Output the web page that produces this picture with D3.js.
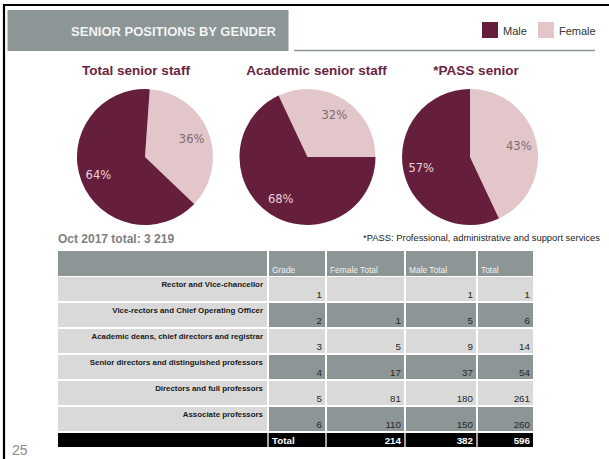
<!DOCTYPE html>
<html>
<head>
<meta charset="utf-8">
<script src="https://cdn.jsdelivr.net/npm/d3@7"></script>
<style>
  html, body { margin: 0; padding: 0; background: #fff; }
  svg { display: block; font-family: "Liberation Sans", Arial, sans-serif; }
</style>
</head>
<body>
<svg id="chart" width="609" height="459"></svg>
<script>
// ---- data ----
const pieTitles = ["Total senior staff", "Academic senior staff", "*PASS senior"];
const femalePct = [36, 32, 43];
const malePct = [64, 68, 57];

const rowLabels = [
  "Rector and Vice-chancellor",
  "Vice-rectors and Chief Operating Officer",
  "Academic deans, chief directors and registrar",
  "Senior directors and distinguished professors",
  "Directors and full professors",
  "Associate professors"
];
const grades = [1, 2, 3, 4, 5, 6];
const femaleTotals = [null, 1, 5, 17, 81, 110];
const maleTotals = [1, 5, 9, 37, 180, 150];
const rowTotals = [1, 6, 14, 54, 261, 260];
const columnHeaders = ["Grade", "Female Total", "Male Total", "Total"];
const grandTotals = [214, 382, 596];

// ---- styles ----
const MALE = "#651e3c", FEMALE = "#e3c6ca", TITLE = "#6b2541";
const SLATE = "#8c9696", LIGHT = "#d9d9d9";

const svg = d3.select("#chart");

// slide frame
svg.append("path")
  .attr("d", "M4,459V5H609")
  .attr("fill", "none").attr("stroke", "#000").attr("stroke-width", 2.2);

// heading bar
svg.append("rect").attr("x", 7.5).attr("y", 10).attr("width", 281).attr("height", 41).attr("fill", SLATE);
svg.append("text").attr("x", 276).attr("y", 36).attr("text-anchor", "end")
  .attr("font-size", 13).attr("font-weight", "bold").attr("fill", "#f3f3f3")
  .text("SENIOR POSITIONS BY GENDER");

// legend
svg.append("line").attr("x1", 294).attr("x2", 595).attr("y1", 50.5).attr("y2", 50.5)
  .attr("stroke", SLATE).attr("stroke-width", 1.5);
const legendItems = [{k: "Male", c: MALE, x: 482}, {k: "Female", c: FEMALE, x: 538}];
const lg = svg.append("g").selectAll("g").data(legendItems).join("g")
  .attr("transform", d => `translate(${d.x},22)`);
lg.append("rect").attr("width", 16).attr("height", 16).attr("fill", d => d.c);
lg.append("text").attr("x", 21).attr("y", 12.5).attr("font-size", 11).attr("fill", "#333").text(d => d.k);

// ---- pies ----
const cx = d3.scalePoint().domain(pieTitles).range([145, 470]);
const startDeg = [4, -25.2, 0];
const titleShift = [-9, 9, 6];
const R = 68;
const arc = d3.arc().innerRadius(0).outerRadius(R);
const labelArc = d3.arc().innerRadius(50).outerRadius(50);

pieTitles.forEach((t, i) => {
  const s = startDeg[i] * Math.PI / 180;
  const pie = d3.pie().sort(null).value(d => d.v).startAngle(s).endAngle(s + 2 * Math.PI);
  const slices = pie([
    {k: "Female", v: femalePct[i], c: FEMALE, tc: "#7b6c70"},
    {k: "Male", v: malePct[i], c: MALE, tc: "#ead3d9"}
  ]);
  const g = svg.append("g").attr("transform", `translate(${cx(t)},157)`);
  g.selectAll("path").data(slices).join("path").attr("d", arc).attr("fill", d => d.data.c);
  g.selectAll("text").data(slices).join("text")
    .attr("transform", d => `translate(${labelArc.centroid(d)})`)
    .attr("text-anchor", "middle").attr("dy", "0.35em")
    .attr("font-family", "DejaVu Sans, sans-serif").attr("font-size", 11.5)
    .attr("fill", d => d.data.tc)
    .text(d => d.data.v + "%");
  svg.append("text").attr("x", cx(t) + titleShift[i]).attr("y", 75)
    .attr("text-anchor", "middle").attr("font-size", 13.5).attr("font-weight", "bold")
    .attr("fill", TITLE).text(t);
});

// notes
svg.append("text").attr("x", 58).attr("y", 243).attr("font-size", 12).attr("font-weight", "bold")
  .attr("fill", "#808080").text("Oct 2017 total: 3 219");
svg.append("text").attr("x", 600).attr("y", 241).attr("text-anchor", "end").attr("font-size", 9.4)
  .attr("fill", "#222").text("*PASS: Professional, administrative and support services");

// ---- table ----
const colEdges = [58, 269, 327, 406, 478, 533]; // column boundaries
const gap = 2;
const colX = i => colEdges[i];
const colW = i => colEdges[i + 1] - colEdges[i] - (i < 4 ? gap : 0);

const headerTop = 251, headerH = 25;
const y = d3.scaleBand().domain(d3.range(rowLabels.length)).range([277, 277 + 26 * rowLabels.length])
  .paddingInner(0).paddingOuter(0);
const rowH = 24;

// header
const hdr = svg.append("g");
for (let c = 0; c < 5; c++) {
  hdr.append("rect").attr("x", colX(c)).attr("y", headerTop).attr("width", colW(c)).attr("height", headerH).attr("fill", SLATE);
}
hdr.selectAll("text").data(columnHeaders).join("text")
  .attr("x", (d, i) => colX(i + 1) + 3).attr("y", 273)
  .attr("font-size", 8.4).attr("fill", "#f2f2f2").text(d => d);

// body rows
const rows = svg.append("g").selectAll("g").data(rowLabels).join("g")
  .attr("transform", (d, i) => `translate(0,${y(i)})`);
rows.each(function (label, i) {
  const g = d3.select(this);
  const shaded = i % 2 === 1;
  for (let c = 0; c < 5; c++) {
    g.append("rect").attr("x", colX(c)).attr("y", 0).attr("width", colW(c)).attr("height", rowH)
      .attr("fill", c > 0 && shaded ? SLATE : LIGHT);
  }
  g.append("text").attr("x", 263).attr("y", 9.5).attr("text-anchor", "end")
    .attr("font-size", 7.9).attr("font-weight", "bold").attr("fill", "#1a1a1a").text(label);
  const vals = [grades[i], femaleTotals[i], maleTotals[i], rowTotals[i]];
  vals.forEach((v, k) => {
    if (v == null) return;
    g.append("text").attr("x", colX(k + 1) + colW(k + 1) - 3).attr("y", rowH - 3)
      .attr("text-anchor", "end").attr("font-size", 9.8).attr("fill", "#262626").text(v);
  });
});

// totals row
const totY = y(rowLabels.length - 1) + 26;
const tot = svg.append("g").attr("transform", `translate(0,${totY})`);
for (let c = 0; c < 5; c++) {
  tot.append("rect").attr("x", colX(c)).attr("y", 0).attr("width", colEdges[c + 1] - colEdges[c]).attr("height", 14).attr("fill", "#000");
}
for (let c = 0; c < 4; c++) {
  tot.append("line").attr("x1", colX(c + 1) - 1).attr("x2", colX(c + 1) - 1).attr("y1", 0).attr("y2", 14)
    .attr("stroke", "#d9d9d9").attr("stroke-width", 1.5);
}
tot.append("text").attr("x", colX(1) + 3).attr("y", 10.5).attr("font-size", 9.8).attr("font-weight", "bold")
  .attr("fill", "#fff").text("Total");
grandTotals.forEach((v, k) => {
  tot.append("text").attr("x", colX(k + 2) + colW(k + 2) - 3).attr("y", 10.5).attr("text-anchor", "end")
    .attr("font-size", 9.8).attr("font-weight", "bold").attr("fill", "#fff").text(v);
});

// slide number
svg.append("text").attr("x", 12).attr("y", 455).attr("font-size", 14).attr("fill", "#8a8a8a").text("25");
</script>
</body>
</html>
